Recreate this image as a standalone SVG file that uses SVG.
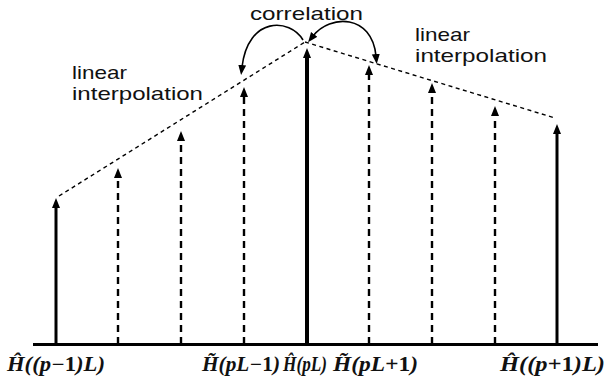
<svg xmlns="http://www.w3.org/2000/svg" width="611" height="385" viewBox="0 0 611 385">
<style>
.lbl{font-family:"Liberation Sans",Arial,sans-serif;font-size:19px;fill:#111}
.math{font-family:"Liberation Serif","Times New Roman",serif;font-size:20px;font-weight:bold;font-style:italic;fill:#111}
.up{font-style:normal}
.solid{stroke:#000;fill:none}
.dash{stroke:#000;stroke-width:2.4;stroke-dasharray:7 5;fill:none}
.interp{stroke:#000;stroke-width:1.4;stroke-dasharray:4 3.5;fill:none}
.corr{stroke:#000;stroke-width:1.6;fill:none}
</style>
<defs>
<marker id="ah" markerUnits="userSpaceOnUse" markerWidth="12" markerHeight="10" refX="2" refY="4" orient="auto">
<path d="M0,0 L10,4 L0,8 z" fill="#000"/>
</marker>
<marker id="ahs" markerUnits="userSpaceOnUse" markerWidth="12" markerHeight="10" refX="2" refY="4" orient="auto-start-reverse">
<path d="M0,0 L10,4 L0,8 z" fill="#000"/>
</marker>
</defs>
<rect width="611" height="385" fill="#fff"/>
<g id="connectors">
<line id="axis" x1="33" y1="344.5" x2="598" y2="344.5" stroke="#000" stroke-width="3"/>
<polyline id="interp-left" class="interp" points="59,196 305,42"/>
<polyline id="interp-right" class="interp" points="305,42 555,118"/>
<line class="solid" x1="56" y1="344" x2="56" y2="206" stroke-width="3" marker-end="url(#ah)"/>
<line class="dash" x1="118" y1="344" x2="118" y2="176" marker-end="url(#ah)"/>
<line class="dash" x1="181" y1="344" x2="181" y2="139" marker-end="url(#ah)"/>
<line class="dash" x1="244" y1="344" x2="244" y2="95" marker-end="url(#ah)"/>
<line class="solid" x1="307" y1="344" x2="307" y2="56" stroke-width="4" marker-end="url(#ah)"/>
<line class="dash" x1="369" y1="344" x2="369" y2="73" marker-end="url(#ah)"/>
<line class="dash" x1="432" y1="344" x2="432" y2="91" marker-end="url(#ah)"/>
<line class="dash" x1="495" y1="344" x2="495" y2="114" marker-end="url(#ah)"/>
<line class="solid" x1="557" y1="344" x2="557" y2="132" stroke-width="3" marker-end="url(#ah)"/>
<path id="corr-left" class="corr" d="M303,40 C290,18 248,16 242,67" marker-end="url(#ah)"/>
<path id="corr-right" class="corr" d="M313,36 C330,14 372,14 376,56" marker-start="url(#ahs)" marker-end="url(#ah)"/>
</g>
<g id="label-correlation"><text class="lbl" x="250" y="20" font-size="21" textLength="113" lengthAdjust="spacingAndGlyphs">correlation</text></g>
<g id="label-interp-left">
<text class="lbl" x="72" y="79" textLength="55" lengthAdjust="spacingAndGlyphs">linear</text>
<text class="lbl" x="72" y="100" textLength="131" lengthAdjust="spacingAndGlyphs">interpolation</text>
</g>
<g id="label-interp-right">
<text class="lbl" x="415" y="41" textLength="55" lengthAdjust="spacingAndGlyphs">linear</text>
<text class="lbl" x="415" y="62" textLength="132" lengthAdjust="spacingAndGlyphs">interpolation</text>
</g>
<g id="labels-axis">
<text class="math" x="7" y="371" textLength="98" lengthAdjust="spacingAndGlyphs">Ĥ((p−<tspan class="up">1</tspan>)L)</text>
<text class="math" x="202" y="371" textLength="78" lengthAdjust="spacingAndGlyphs">H̃(pL−<tspan class="up">1</tspan>)</text>
<text class="math" x="283" y="371" textLength="44" lengthAdjust="spacingAndGlyphs">Ĥ(pL)</text>
<text class="math" x="333" y="371" textLength="85" lengthAdjust="spacingAndGlyphs">H̃(pL+<tspan class="up">1</tspan>)</text>
<text class="math" x="500" y="371" textLength="105" lengthAdjust="spacingAndGlyphs">Ĥ((p+<tspan class="up">1</tspan>)L)</text>
</g>
</svg>
